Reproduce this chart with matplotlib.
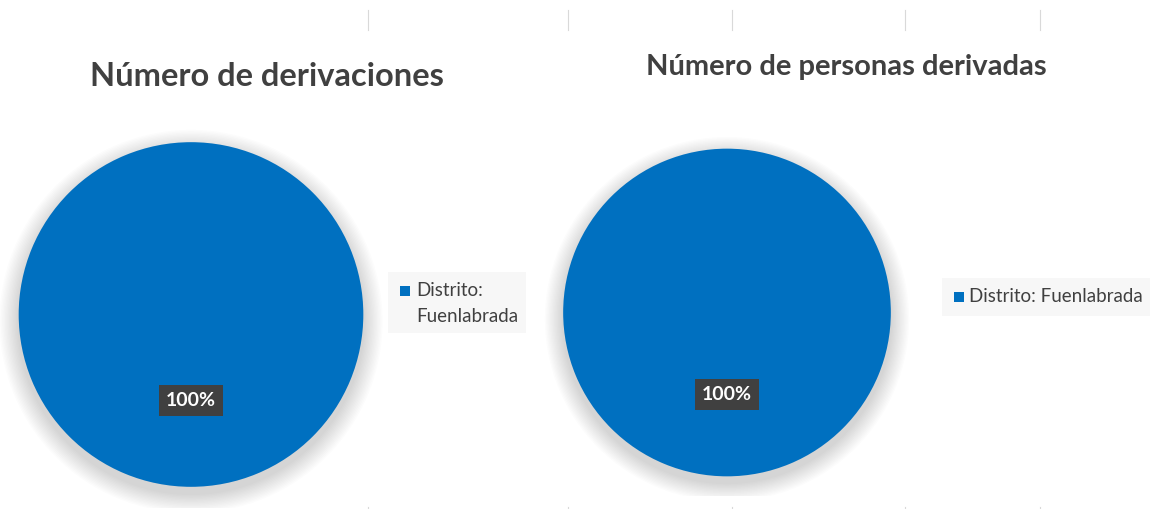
import matplotlib
matplotlib.use("Agg")
import matplotlib.pyplot as plt
from matplotlib.patches import Circle, Rectangle

# data
titles = ["Número de derivaciones", "Número de personas derivadas"]
categories = ["Distrito: Fuenlabrada"]
values_left = [1]
values_right = [1]
legend_labels = ["Distrito:\nFuenlabrada", "Distrito: Fuenlabrada"]

blue = "#0070C0"
W, H = 1151, 509

plt.rcParams['font.family'] = ['Lato', 'DejaVu Sans']
fig = plt.figure(figsize=(W / 100, H / 100), dpi=100)


def px_axes(x0, y0, x1, y1):
    # pixel box (top-left origin) -> figure axes
    return fig.add_axes([x0 / W, 1 - y1 / H, (x1 - x0) / W, (y1 - y0) / H])


# faint spreadsheet grid lines
for xg in [368, 568, 732, 905, 1040]:
    fig.add_artist(plt.Line2D([xg / W, xg / W], [1 - 10 / H, 1 - 30 / H], color="#d9d9d9", lw=0.8))
    fig.add_artist(plt.Line2D([xg / W, xg / W], [0, 2 / H], color="#d9d9d9", lw=0.8))


def draw_pie(box, values, label_offset):
    ax = px_axes(*box)
    ax.set_xlim(-1.12, 1.12)
    ax.set_ylim(-1.12, 1.12)
    ax.set_aspect("equal")
    ax.axis("off")
    # soft shadow
    for i in range(14):
        ax.add_patch(Circle((0.0, -0.04), 1.0 + 0.008 * (14 - i), color="black", alpha=0.011, lw=0))
    ax.pie(values, colors=[blue], startangle=90, radius=1.0,
           wedgeprops=dict(linewidth=0))
    ax.set_xlim(-1.12, 1.12)
    ax.set_ylim(-1.12, 1.12)
    ax.text(0, label_offset, "100%", ha="center", va="center", color="white",
            fontsize=14, fontweight="bold",
            bbox=dict(boxstyle="square,pad=0.35", fc="#404040", ec="none"))
    return ax


draw_pie((18 - 20, 141 - 20, 364 + 20, 488 + 20), values_left, -0.5)
draw_pie((562 - 19, 148 - 19, 892 + 19, 477 + 19), values_right, -0.5)

fig.text(267 / W, 1 - 77 / H, titles[0], ha="center", va="center",
         fontsize=23.5, fontweight="bold", color="#404040")
fig.text(846 / W, 1 - 67 / H, titles[1], ha="center", va="center",
         fontsize=21, fontweight="bold", color="#404040")

# legends
fig.add_artist(Rectangle((388 / W, 1 - 333 / H), (526 - 388) / W, (333 - 272) / H,
                         transform=fig.transFigure, color="#f7f7f7", lw=0))
fig.add_artist(Rectangle((400 / W, 1 - 296 / H), 10 / W, 10 / H,
                         transform=fig.transFigure, color=blue, lw=0))
fig.text(416 / W, 1 - 291 / H, "Distrito:", ha="left", va="center", fontsize=13.5, color="#404040")
fig.text(416 / W, 1 - 316 / H, "Fuenlabrada", ha="left", va="center", fontsize=13.5, color="#404040")

fig.add_artist(Rectangle((942 / W, 1 - 316 / H), (1150 - 942) / W, (316 - 278) / H,
                         transform=fig.transFigure, color="#f7f7f7", lw=0))
fig.add_artist(Rectangle((954 / W, 1 - 302 / H), 10 / W, 10 / H,
                         transform=fig.transFigure, color=blue, lw=0))
fig.text(969 / W, 1 - 297 / H, legend_labels[1], ha="left", va="center", fontsize=13.5, color="#404040")

fig.savefig("out.png", dpi=100, facecolor="white")
